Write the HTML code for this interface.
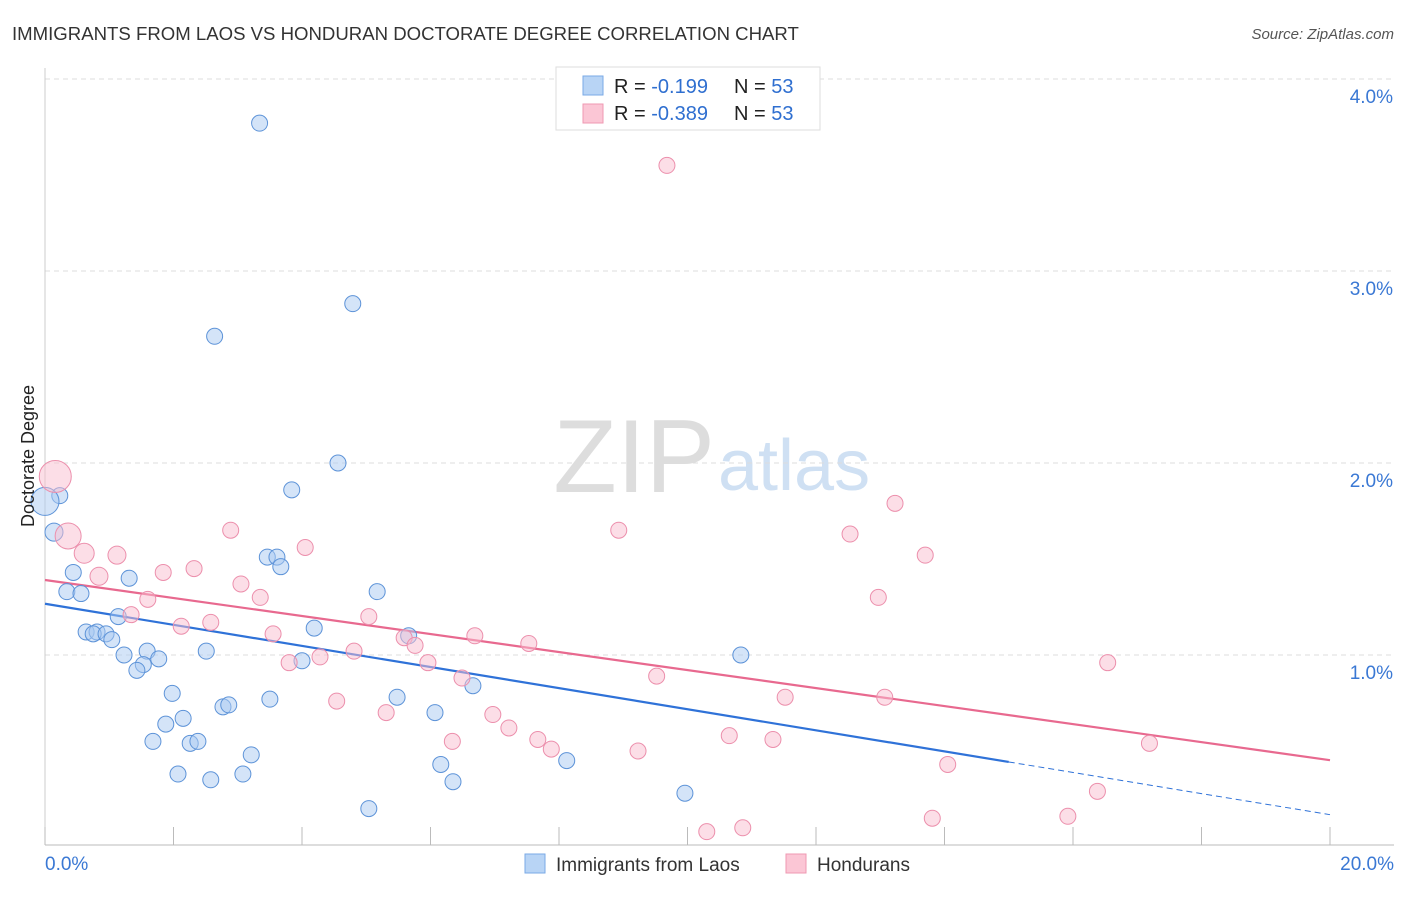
<!DOCTYPE html>
<html><head><meta charset="utf-8"><style>
body{margin:0;background:#fff;font-family:"Liberation Sans",sans-serif;}
svg text{font-family:"Liberation Sans",sans-serif;}
</style></head><body>
<svg id="chart" width="1406" height="892">
<text x="12" y="40" font-size="18.6" fill="#333">IMMIGRANTS FROM LAOS VS HONDURAN DOCTORATE DEGREE CORRELATION CHART</text>
<text x="1394" y="39" font-size="15" fill="#555" text-anchor="end" font-style="italic">Source: ZipAtlas.com</text>
<text x="715" y="492" font-size="104" fill="#ddd" text-anchor="end" font-family="Liberation Serif">ZIP</text>
<text x="718" y="490" font-size="72" fill="#cfe0f3">atlas</text>
<g id="grid"></g><g id="axes"></g><g id="trend"></g><g id="pts"></g>
<text x="34" y="456" font-size="18" fill="#222" text-anchor="middle" transform="rotate(-90 34 456)">Doctorate Degree</text>
<g>
<rect x="556" y="67" width="264" height="63" fill="#fff" stroke="#ddd"/>
<rect x="583" y="76" width="20" height="19" fill="#b8d4f5" stroke="#7aaae6"/>
<rect x="583" y="104" width="20" height="19" fill="#fbc6d5" stroke="#ef98b2"/>
<text x="614" y="93" font-size="20" fill="#222">R = <tspan fill="#2f6fd0"> -0.199</tspan><tspan x="734">N = </tspan><tspan fill="#2f6fd0">53</tspan></text>
<text x="614" y="120" font-size="20" fill="#222">R = <tspan fill="#2f6fd0">-0.389</tspan><tspan x="734">N = </tspan><tspan fill="#2f6fd0">53</tspan></text>
</g>
<g>
<rect x="525" y="854" width="20" height="19" fill="#b8d4f5" stroke="#7aaae6"/>
<text x="556" y="871" font-size="19" fill="#333">Immigrants from Laos</text>
<rect x="786" y="854" width="20" height="19" fill="#fbc6d5" stroke="#ef98b2"/>
<text x="817" y="871" font-size="19" fill="#333">Hondurans</text>
</g>
</svg>
<script>
const yTicks=[1,2,3,4];
const xTickLabels=["0.0%","20.0%"];
const blueX=[3.34,4.79,2.64,4.56,3.84,0.23,0.0,0.14,3.46,3.61,3.67,0.44,1.31,0.34,0.56,5.17,1.14,0.64,0.81,0.75,0.95,1.04,4.19,5.66,1.23,1.59,2.51,1.77,1.53,1.43,4.0,10.83,6.66,1.98,5.48,3.5,2.77,2.86,6.07,2.15,1.88,1.68,2.26,2.38,3.21,8.12,6.16,2.07,3.08,2.58,6.35,9.96,5.04];
const blueY=[3.77,2.83,2.66,2.0,1.86,1.83,1.8,1.64,1.51,1.51,1.46,1.43,1.4,1.33,1.32,1.33,1.2,1.12,1.12,1.11,1.11,1.08,1.14,1.1,1.0,1.02,1.02,0.98,0.95,0.92,0.97,1.0,0.84,0.8,0.78,0.77,0.73,0.74,0.7,0.67,0.64,0.55,0.54,0.55,0.48,0.45,0.43,0.38,0.38,0.35,0.34,0.28,0.2];
const pinkX=[9.68,0.16,13.23,0.36,2.89,8.93,12.53,0.61,1.12,4.05,13.7,2.32,1.84,0.84,3.05,3.35,12.97,1.6,1.34,5.04,2.58,2.12,3.55,5.59,6.69,5.76,7.53,4.81,4.28,3.8,5.96,16.54,6.49,9.52,11.52,13.07,4.54,5.31,6.97,7.22,10.65,6.34,7.67,11.33,7.88,9.23,17.19,14.05,16.38,13.81,15.92,10.86,10.3];
const pinkY=[3.55,1.93,1.79,1.62,1.65,1.65,1.63,1.53,1.52,1.56,1.52,1.45,1.43,1.41,1.37,1.3,1.3,1.29,1.21,1.2,1.17,1.15,1.11,1.09,1.1,1.05,1.06,1.02,0.99,0.96,0.96,0.96,0.88,0.89,0.78,0.78,0.76,0.70,0.69,0.62,0.58,0.55,0.56,0.56,0.51,0.5,0.54,0.43,0.29,0.15,0.16,0.1,0.08];
const pinkR=[8,16,8,13,8,8,8,10,9,8,8,8,8,9,8,8,8,8,8,8,8,8,8,8,8,8,8,8,8,8,8,8,8,8,8,8,8,8,8,8,8,8,8,8,8,8,8,8,8,8,8,8,8];
const blueR=blueX.map((v,i)=>i===6?14:i===7?9:8);
const X=v=>45+v*64.25, Y=v=>847-v*192;
const NS="http://www.w3.org/2000/svg";
function mk(t,a,p){const e=document.createElementNS(NS,t);for(const k in a)e.setAttribute(k,a[k]);p.appendChild(e);return e;}
const grid=document.getElementById('grid'),axes=document.getElementById('axes');
yTicks.forEach(t=>{const l=mk('line',{x1:45,x2:1394,y1:Y(t),y2:Y(t),stroke:'#ddd','stroke-dasharray':'5,4'},grid);


const tx=mk('text',{x:1393,y:Y(t)+24,'font-size':19,fill:'#3a78d4','text-anchor':'end'},axes);tx.textContent=t.toFixed(1)+'%';

});
const ax=mk('line',{x1:45,x2:1394,y1:845,y2:845,stroke:'#bbb'},axes);


const ay=mk('line',{x1:45,x2:45,y1:68,y2:845,stroke:'#ccc'},axes);


for(let i=0;i<=10;i++){const tk=mk('line',{x1:X(i*2),x2:X(i*2),y1:827,y2:845,stroke:'#bbb'},axes);

}
[[0,'start',45],[20,'end',1394]].forEach((d,i)=>{const t=mk('text',{x:d[2],y:870,'font-size':19,fill:'#3a78d4','text-anchor':d[1]},axes);t.textContent=xTickLabels[i];

});
const tr=document.getElementById('trend');
function fit(xs,ys){const n=xs.length,mx=xs.reduce((a,b)=>a+b)/n,my=ys.reduce((a,b)=>a+b)/n;let sxy=0,sxx=0;xs.forEach((x,i)=>{sxy+=(x-mx)*(ys[i]-my);sxx+=(x-mx)**2});const b=sxy/sxx;return[my-b*mx,b];}
const [ba,bb]=fit(blueX,blueY),[pa,pb]=fit(pinkX,pinkY);
let l1=mk('line',{x1:X(0),y1:Y(ba),x2:X(15),y2:Y(ba+bb*15),stroke:'#2f72d8','stroke-width':2.2},tr);


let l2=mk('line',{x1:X(15),y1:Y(ba+bb*15),x2:X(20),y2:Y(ba+bb*20),stroke:'#2f72d8','stroke-width':1,'stroke-dasharray':'6,4'},tr);


let l3=mk('line',{x1:X(0),y1:Y(pa),x2:X(20),y2:Y(pa+pb*20),stroke:'#e8698f','stroke-width':2.2},tr);


const pts=document.getElementById('pts');
blueX.forEach((x,i)=>{const c=mk('circle',{cx:X(x),cy:Y(blueY[i]),r:blueR[i],fill:'rgba(170,202,242,0.5)',stroke:'#5d93d8','stroke-width':1},pts);

});
pinkX.forEach((x,i)=>{const c=mk('circle',{cx:X(x),cy:Y(pinkY[i]),r:pinkR[i],fill:'rgba(249,190,208,0.5)',stroke:'#ec8fac','stroke-width':1},pts);

});
</script>
</body></html>
